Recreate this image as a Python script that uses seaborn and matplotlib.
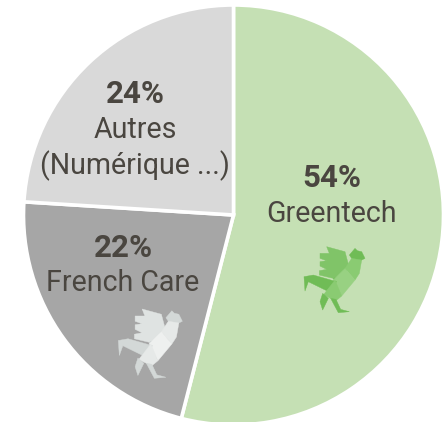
#!/usr/bin/env python3
import matplotlib
matplotlib.use('Agg')
import matplotlib.pyplot as plt
from matplotlib.patches import Polygon
import seaborn as sns

labels = ['Greentech', 'French Care', 'Autres\n(Numérique ...)']
pcts = [54, 22, 24]
colors = ['#c5e0b4', '#a6a6a6', '#d9d9d9']
text_color = '#4a4640'

sns.set_theme(style='white')
plt.rcParams['font.family'] = ['Roboto', 'DejaVu Sans']

W, H = 445, 422
fig = plt.figure(figsize=(W / 100, H / 100), dpi=100)
ax = fig.add_axes([0, 0, 1, 1])
ax.pie(pcts, colors=colors, startangle=90, counterclock=False,
       radius=210, center=(233.5, H - 215), frame=False,
       wedgeprops={'edgecolor': 'white', 'linewidth': 2.6})
ax.set_xlim(0, W)
ax.set_ylim(0, H)
ax.set_aspect('equal')
ax.axis('off')


def label(x, y, txt, bold=False):
    ax.text(x, H - y, txt, ha='center', va='center', color=text_color,
            fontsize=22.5 if bold else 20.6, fontweight='bold' if bold else 'normal')


label(332, 178, f'{pcts[0]}%', True)
label(332, 214, labels[0])
label(123, 248, f'{pcts[1]}%', True)
label(123, 283, labels[1])
label(135, 94, f'{pcts[2]}%', True)
label(135, 130, 'Autres')
label(135, 166, '(Numérique ...)')

facets = [
    ([(140, 50), (195, 65), (207, 110), (190, 135), (160, 145), (118, 135), (118, 122), (140, 118),
      (120, 108), (120, 95), (140, 92), (120, 85), (120, 70), (148, 70)], 0),
    ([(160, 145), (190, 135), (207, 110), (195, 115), (165, 155)], 1),
    ([(208, 75), (225, 55), (232, 62), (245, 65), (255, 85), (245, 90), (232, 95), (215, 85)], 1),
    ([(215, 85), (245, 90), (238, 130), (225, 150), (195, 115)], 2),
    ([(195, 115), (225, 150), (185, 198), (160, 150)], 3),
    ([(72, 140), (100, 135), (170, 155), (140, 182), (85, 155), (75, 183)], 1),
    ([(140, 182), (165, 150), (185, 198), (168, 212), (130, 195)], 2),
    ([(128, 190), (145, 205), (128, 240), (120, 215)], 1),
    ([(168, 208), (182, 238), (208, 245), (175, 248), (152, 205)], 1),
]


def coq(x0, y0, s, shades):
    for pts, shade in facets:
        xy = [(x0 + (px - 72) / 3 * s, H - (y0 + (py - 50) / 3 * s)) for px, py in pts]
        ax.add_patch(Polygon(xy, closed=True, facecolor=shades[shade], edgecolor=shades[shade], linewidth=0.3))


coq(304, 246.7, 1.0, ['#80c468', '#70bc56', '#8acb72', '#98d182'])
coq(118.3, 309, 1.05, ['#dfe3e2', '#d3d8d7', '#e6e9e8', '#eef0ef'])

fig.savefig('out.png', dpi=100)
